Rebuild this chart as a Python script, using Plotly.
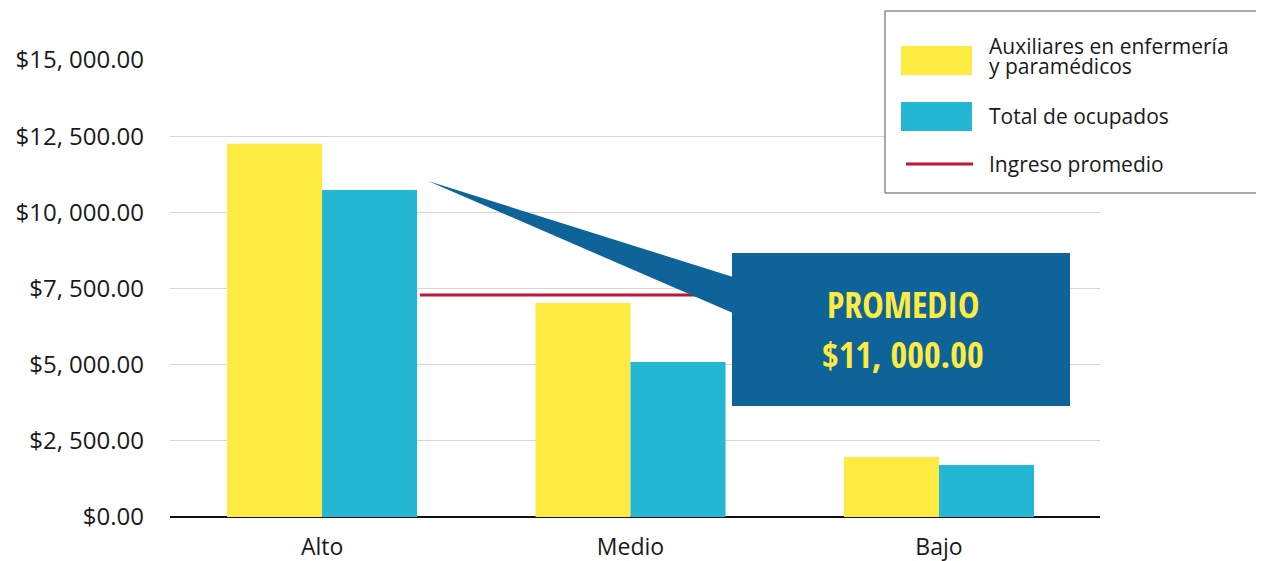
import plotly.graph_objects as go

# data
categorias = ["Alto", "Medio", "Bajo"]
auxiliares = [12250, 7020, 1970]
total_ocupados = [10730, 5090, 1710]
ingreso_promedio = 7290
ingreso_x = [0.317, 1.75]

series_names = ["Auxiliares en enfermería<br>y paramédicos", "Total de ocupados", "Ingreso promedio"]
y_ticks = [0, 2500, 5000, 7500, 10000, 12500, 15000]
y_ticklabels = ["$0.00", "$2, 500.00", "$5, 000.00", "$7, 500.00",
                "$10, 000.00", "$12, 500.00", "$15, 000.00"]
callout_text = ["PROMEDIO", "$11, 000.00"]

YELLOW = "#FEEB41"
TEAL = "#24B7D3"
RED = "#BE1538"
BLUE = "#0E6399"
FONT = "Open Sans, DejaVu Sans, sans-serif"
FONT_CALLOUT = "Open Sans Condensed, Roboto Condensed, sans-serif"

# plot area as it sits on screen (page has an 8px body margin)
OFF = 8
L, R, T, B = 170, 1100, 60, 517
W, H = 1264, 561


def px_x(p):
    return (p - L) / (R - L)


def px_y(p):
    return (B - p) / (B - T)


x_pos = list(range(len(categorias)))

fig = go.Figure()
fig.add_trace(go.Bar(x=x_pos, y=auxiliares, name=series_names[0],
                     marker=dict(color=YELLOW, line=dict(width=0))))
fig.add_trace(go.Bar(x=x_pos, y=total_ocupados, name=series_names[1],
                     marker=dict(color=TEAL, line=dict(width=0))))
fig.add_trace(go.Scatter(x=ingreso_x, y=[ingreso_promedio] * len(ingreso_x),
                         mode="lines", name=series_names[2],
                         line=dict(color=RED, width=3)))

shapes = []
# callout pointer + box
tip = (px_x(428), px_y(181))
b1 = (px_x(733), px_y(277))
b2 = (px_x(733), px_y(313))
shapes.append(dict(type="path", xref="paper", yref="paper",
                   path=f"M {tip[0]} {tip[1]} L {b1[0]} {b1[1]} L {b2[0]} {b2[1]} Z",
                   fillcolor=BLUE, line=dict(width=0)))
shapes.append(dict(type="rect", xref="paper", yref="paper",
                   x0=px_x(732), x1=px_x(1070), y0=px_y(406), y1=px_y(253),
                   fillcolor=BLUE, line=dict(width=0)))

# manual legend
shapes.append(dict(type="rect", xref="paper", yref="paper",
                   x0=px_x(885), x1=px_x(1270), y0=px_y(193), y1=px_y(11),
                   fillcolor="white", line=dict(color="#555555", width=1)))
shapes.append(dict(type="rect", xref="paper", yref="paper",
                   x0=px_x(901), x1=px_x(972), y0=px_y(75), y1=px_y(46),
                   fillcolor=YELLOW, line=dict(width=0)))
shapes.append(dict(type="rect", xref="paper", yref="paper",
                   x0=px_x(901), x1=px_x(972), y0=px_y(131), y1=px_y(102),
                   fillcolor=TEAL, line=dict(width=0)))
shapes.append(dict(type="line", xref="paper", yref="paper",
                   x0=px_x(906), x1=px_x(973), y0=px_y(164), y1=px_y(164),
                   line=dict(color=RED, width=3)))

annotations = []
legend_rows = [(series_names[0].split("<br>")[0], 46),
               (series_names[0].split("<br>")[1], 66),
               (series_names[1], 116),
               (series_names[2], 164)]
for txt, yy in legend_rows:
    annotations.append(dict(text=txt, xref="paper", yref="paper",
                            x=px_x(987), y=px_y(yy), xanchor="left", yanchor="middle",
                            showarrow=False, font=dict(family=FONT, size=21, color="#1a1a1a")))

for txt, yy in zip(callout_text, [304, 354]):
    annotations.append(dict(text=txt, xref="paper", yref="paper",
                            x=px_x(903), y=px_y(yy), xanchor="center", yanchor="middle",
                            showarrow=False,
                            font=dict(family=FONT_CALLOUT, size=36, color=YELLOW, weight="bold")))

fig.update_layout(
    width=W, height=H,
    margin=dict(l=L - OFF, r=W - R + OFF, t=T - OFF, b=H - B + OFF, autoexpand=False),
    paper_bgcolor="white", plot_bgcolor="white",
    barmode="group", bargap=0.384, bargroupgap=0,
    showlegend=False,
    font=dict(family=FONT, size=24, color="#1a1a1a"),
    shapes=shapes, annotations=annotations,
)
fig.update_xaxes(range=[-0.493, 2.522], tickvals=x_pos, ticktext=categorias,
                 showgrid=False, zeroline=False, showline=False, automargin=False,
                 ticks="", ticklabelstandoff=14, tickfont=dict(size=23))
fig.update_yaxes(range=[0, 15000], tickvals=y_ticks, ticktext=y_ticklabels,
                 showgrid=True, gridcolor="#d6d6d6", gridwidth=1,
                 zeroline=True, zerolinecolor="#111111", zerolinewidth=2,
                 showline=False, ticks="", ticklabelstandoff=25, automargin=False,
                 tickfont=dict(size=24))

fig.write_html("out.html")
